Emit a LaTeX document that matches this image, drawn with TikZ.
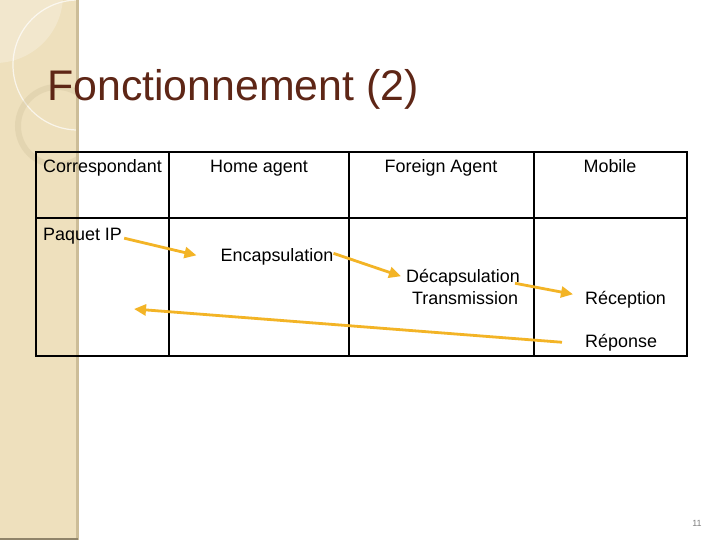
\documentclass[tikz,border=0pt]{standalone}
\usepackage{fontspec}
\setmainfont{Liberation Sans}
\usepackage{tikz}
\usetikzlibrary{arrows.meta,calc}

\definecolor{bandcol}{RGB}{238,224,189}
\definecolor{bandedge}{RGB}{204,189,152}
\definecolor{titlecol}{RGB}{94,38,22}
\definecolor{arrowcol}{RGB}{243,180,38}

\begin{document}
\begin{tikzpicture}[x=1bp,y=-1bp,font=\fontsize{18}{21}\selectfont]

  \tikzstyle{cell}=[inner sep=0pt,anchor=base]
  \tikzstyle{lcell}=[inner sep=0pt,anchor=base west]
  \tikzstyle{flow}=[draw=arrowcol,line width=2.8bp,-{Triangle[length=12bp,width=11bp]}]
  \tikzstyle{grid}=[draw=black,line width=1.6bp]

  \useasboundingbox (0,0) rectangle (720,540);
  \fill[white] (0,0) rectangle (720,540);

  % left band with its circles
  \fill[bandcol] (0,0) rectangle (78,540);
  \begin{scope}
    \clip (0,0) rectangle (77,540);
    \fill[white,opacity=0.25] (-5,-5) circle (68);
    \draw[white,opacity=0.7,line width=1.2bp] (78,65) circle (65);
    \draw[bandedge,opacity=0.3,line width=6bp] (57,126) circle (39);
  \end{scope}
  \draw[bandedge,line width=2.5bp] (77.5,0) -- (77.5,540);
  \draw[bandedge!70!black,line width=1.5bp] (0,539) -- (78,539);

  % title
  \node[anchor=base west,inner sep=0pt,text=titlecol,font=\fontsize{43}{50}\selectfont] (title) at (47,101) {Fonctionnement (2)};

  % table
  \path[grid] (36,152) rectangle (687,356);
  \path[grid] (36,218) -- (687,218);
  \foreach \x in {169,349,534} \path[grid] (\x,152) -- (\x,356);

  % headers
  \node[lcell] (corr)    at (43,172.5)  {Correspondant};
  \node[cell]  (home)    at (259,172.5) {Home agent};
  \node[cell]  (foreign) at (441,172.5) {Foreign Agent};
  \node[cell]  (mobile)  at (610,172.5) {Mobile};

  % steps
  \node[lcell] (paquet)  at (43,240.5)  {Paquet IP};
  \node[cell]  (encap)   at (277,262)   {Encapsulation};
  \node[cell]  (decap)   at (463,283)   {Décapsulation};
  \node[cell]  (trans)   at (465,304)   {Transmission};
  \node[lcell] (recep)   at (585,304)   {Réception};
  \node[lcell] (repon)   at (585,347)   {Réponse};

  \coordinate (back) at (134,309);

  \path ($(paquet.east)+(2,2)$)       edge[flow] ($(encap.west)+(-24,-2)$)
        ($(encap.east)+(0,-4)$)       edge[flow] ($(decap.west)+(-5,-2)$)
        ($(decap.east)+(-5,5)$)       edge[flow] ($(recep.west)+(-12,-5)$)
        ($(repon.west)+(-23,0)$)      edge[flow] (back);

  % page number
  \node[anchor=center,inner sep=0pt,text=gray,font=\fontsize{9}{10}\selectfont] (num) at (697,523) {11};
\end{tikzpicture}
\end{document}
